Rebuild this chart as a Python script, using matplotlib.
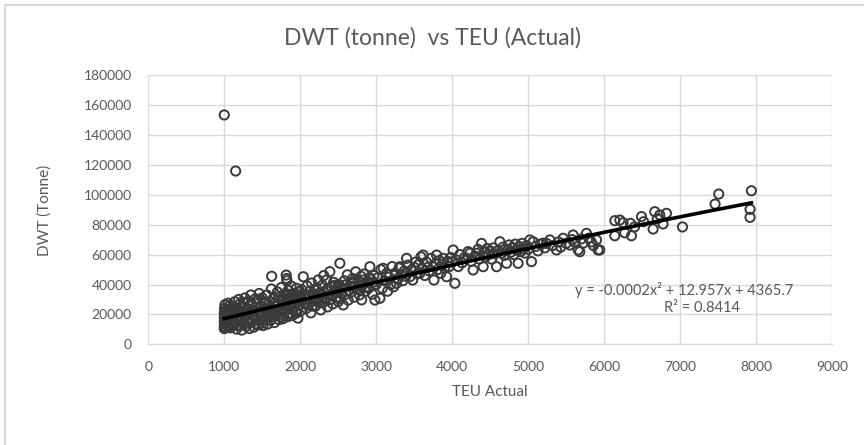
import numpy as np
import matplotlib
matplotlib.use("Agg")
import matplotlib.pyplot as plt
from matplotlib.patches import Rectangle

plt.rcParams['font.family'] = ['Lato', 'DejaVu Sans']

title = "DWT (tonne)  vs TEU (Actual)"
x_label = "TEU Actual"
y_label = "DWT (Tonne)"
x_ticks = [0, 1000, 2000, 3000, 4000, 5000, 6000, 7000, 8000, 9000]
y_ticks = [0, 20000, 40000, 60000, 80000, 100000, 120000, 140000, 160000, 180000]

# trend line coefficients (a x^2 + b x + c) and R^2 as shown
trend_coef = [-0.0002, 12.957, 4365.7]
r_squared = 0.8414

teu_a = [1000, 1000, 1005, 1000, 1010, 1000, 1008, 1000, 1012, 1003, 1020, 1030, 1025, 1040, 1035,
         1050, 1060, 1055, 1070, 1065, 1080, 1090, 1085, 1100, 1095, 1010, 1050, 1100, 1110,
         1000, 1150]
dwt_a = [10500, 12000, 13500, 15000, 16500, 18000, 19500, 21000, 22500, 24000, 11200, 14200, 17300, 20100, 23300,
         12600, 15700, 18800, 21800, 25600, 11000, 14000, 19500, 17000, 22500, 26500, 27500, 12000, 25000,
         153400, 115900]

teu_b = [1120, 1130, 1140, 1160, 1170, 1180, 1190, 1200, 1210, 1220, 1230, 1240, 1250, 1260, 1270,
         1280, 1290, 1300, 1310, 1320, 1330, 1340, 1350, 1360, 1370, 1380, 1390, 1400, 1410, 1420,
         1430, 1440, 1450, 1460, 1470, 1480, 1490, 1500, 1500, 1510, 1520]
dwt_b = [13500, 19000, 28500, 10200, 16000, 22000, 30000, 12500, 18500, 25000, 9500, 21000, 28000, 15000, 31000,
         19500, 12000, 24000, 17000, 29000, 10500, 21500, 33000, 14500, 26000, 19000, 11500, 23000, 30500, 16500,
         27000, 13000, 21000, 34000, 18000, 25500, 14000, 22000, 31000, 12500, 27500]

teu_b2 = [1115, 1145, 1175, 1205, 1235, 1265, 1295, 1325, 1355, 1385, 1415, 1445, 1475, 1505, 1535,
          1565, 1595, 1625, 1655, 1685, 1715, 1745, 1775, 1805, 1835, 1865, 1895, 1925, 1955, 1985]
dwt_b2 = [16500, 23500, 12800, 27000, 15800, 24500, 20500, 14000, 26500, 22500, 13800, 30000, 20500, 16500, 28500,
          19500, 24500, 18500, 27000, 22000, 31500, 18500, 29500, 25500, 32500, 19000, 30000, 27500, 21000, 35000]

teu_c = [1530, 1550, 1560, 1570, 1580, 1600, 1610, 1620, 1624, 1630, 1650, 1660, 1670, 1680, 1700,
         1710, 1720, 1730, 1740, 1750, 1760, 1770, 1780, 1790, 1800, 1810, 1815, 1820, 1825, 1830,
         1840, 1850, 1860, 1870, 1880, 1890, 1900, 1910, 1920, 1930, 1940, 1950, 1960, 1970, 1980,
         1990, 2000]
dwt_c = [17000, 24000, 33000, 13500, 20500, 28500, 16000, 37000, 45500, 22500, 31000, 14500, 25500, 19000, 35000,
         27000, 16500, 23000, 30000, 38000, 20000, 17000, 26500, 33500, 22000, 29000, 46300, 44000, 42500, 18500,
         36000, 25000, 31500, 21000, 39000, 27500, 19500, 34000, 24500, 30500, 22000, 37500, 28000, 17500, 33000,
         26000, 31000]

teu_d = [2010, 2020, 2040, 2050, 2060, 2080, 2090, 2100, 2110, 2130, 2140, 2150, 2170, 2180, 2200,
         2210, 2230, 2237, 2250, 2260, 2270, 2290, 2300, 2310, 2320, 2340, 2347, 2360, 2380, 2390,
         2400, 2410, 2430, 2440, 2450, 2470, 2478, 2490, 2500, 2510, 2522]
dwt_d = [22500, 36500, 45200, 28000, 33000, 24000, 39000, 30500, 26500, 35500, 21000, 41000, 29000, 33500, 25500,
         37500, 31000, 43000, 27500, 34500, 23000, 39500, 31500, 46000, 28500, 36000, 43000, 25000, 33000, 48600,
         30000, 38500, 27000, 41500, 34500, 31000, 36300, 38000, 28500, 40000, 54200]

teu_d2 = [2025, 2070, 2120, 2160, 2190, 2220, 2280, 2330, 2370, 2420, 2460, 2485, 2540, 2590, 2640,
          2680, 2720, 2770, 2830, 2870, 2910, 2960]
dwt_d2 = [30000, 27000, 32500, 25500, 36500, 29500, 33000, 30000, 37000, 32500, 39500, 35000, 34000, 39500, 36000,
          41500, 38500, 40000, 43000, 38500, 44500, 41500]

teu_e = [2530, 2550, 2566, 2580, 2600, 2620, 2630, 2650, 2670, 2690, 2697, 2710, 2730, 2740, 2760,
         2780, 2785, 2800, 2808, 2820, 2840, 2860, 2880, 2900, 2917, 2930, 2950, 2970, 2983, 3000]
dwt_e = [30500, 37500, 26300, 42500, 33500, 46500, 29500, 39000, 35000, 44000, 40800, 31500, 48500, 37000, 42000,
         33000, 36300, 45500, 29700, 39500, 47000, 35500, 41500, 37500, 51900, 43500, 33500, 46000, 29600, 40000]

teu_f = [3020, 3049, 3060, 3080, 3092, 3110, 3137, 3150, 3170, 3190, 3210, 3230, 3250, 3268, 3290,
         3300, 3312, 3330, 3350, 3370, 3390, 3400, 3420, 3443, 3460, 3480, 3500]
dwt_f = [44500, 30800, 50000, 37500, 50800, 42500, 47500, 35500, 45000, 40000, 52000, 38500, 47500, 40800, 44000,
         51000, 51900, 46500, 42500, 49000, 45500, 57500, 53000, 45200, 49500, 43000, 51500]

teu_g = [3520, 3540, 3560, 3575, 3590, 3610, 3618, 3640, 3660, 3680, 3700, 3720, 3750, 3760, 3780,
         3795, 3810, 3830, 3850, 3870, 3882, 3900, 3926, 3940, 3960, 3980, 4000, 4013]
dwt_g = [55000, 47000, 53500, 47500, 58500, 50500, 59700, 46000, 55000, 51500, 49000, 57500, 51900, 43000, 54000,
         59700, 50000, 56000, 47500, 53500, 57500, 51000, 45200, 55500, 52000, 58000, 55000, 63100]

teu_h = [4036, 4050, 4080, 4100, 4130, 4160, 4189, 4210, 4233, 4250, 4276, 4300, 4321, 4340, 4360,
         4387, 4408, 4420, 4440, 4460, 4480, 4500]
dwt_h = [40800, 56500, 52000, 60000, 54500, 58000, 57500, 62000, 60900, 55500, 49700, 59000, 60900, 63500, 57000,
         67500, 51900, 61500, 58500, 64000, 60000, 62500]

teu_i = [4520, 4540, 4560, 4584, 4600, 4628, 4650, 4670, 4690, 4716, 4730, 4750, 4770, 4790, 4810,
         4830, 4850, 4868, 4880, 4900, 4920, 4940, 4960, 4980, 5000, 5022]
dwt_i = [57000, 64500, 60500, 51900, 62500, 68600, 61000, 65000, 59500, 54200, 63000, 66500, 61500, 64500, 60000,
         67000, 63000, 54200, 65500, 62000, 67500, 64000, 61000, 66000, 63500, 69800]

teu_j = [5044, 5066, 5100, 5130, 5160, 5197, 5220, 5242, 5286, 5320, 5374, 5400, 5430, 5461, 5500,
         5549, 5580, 5592, 5620, 5658, 5680, 5700, 5724, 5768, 5800, 5830, 5860, 5900, 5921, 5943]
dwt_j = [55300, 68600, 65500, 62500, 67000, 67600, 64500, 67500, 69800, 66000, 63100, 68500, 65000, 70900, 67500,
         66400, 70000, 73100, 68000, 63100, 61900, 70500, 67600, 74200, 71000, 68500, 66000, 69800, 63100, 63100]

teu_k = [6141, 6207, 6250, 6272, 6347, 6141, 6360, 6400, 6492, 6520, 6645, 6667, 6700, 6733, 6776,
         6821, 7032, 7461, 7509, 7921, 7921, 7939]
dwt_k = [82700, 83100, 81300, 74600, 80900, 72600, 72600, 78500, 85400, 82000, 77100, 88700, 84000, 86500, 80500,
         87600, 78500, 93800, 100500, 90300, 84900, 102700]

teu = np.array(teu_a + teu_b + teu_b2 + teu_c + teu_d + teu_d2 + teu_e + teu_f + teu_g + teu_h
               + teu_i + teu_j + teu_k, float)
dwt = np.array(dwt_a + dwt_b + dwt_b2 + dwt_c + dwt_d + dwt_d2 + dwt_e + dwt_f + dwt_g + dwt_h
               + dwt_i + dwt_j + dwt_k, float)

GRAY = "#595959"
GRID = "#d9d9d9"

fig = plt.figure(figsize=(8.64, 4.45), dpi=100)
# chart frame
fig.patches.append(Rectangle((5 / 864, -0.1), 1.2, 1 - 5 / 445 + 0.1, transform=fig.transFigure,
                             fill=False, edgecolor="#d0d0d0", linewidth=1.2))
ax = fig.add_axes([148.3 / 864, 1 - 344.3 / 445, (832 - 148.3) / 864, (344.3 - 75.2) / 445])

ax.set_xlim(0, 9000)
ax.set_ylim(0, 180000)
ax.set_xticks(x_ticks)
ax.set_yticks(y_ticks)
ax.set_xticklabels([str(t) for t in x_ticks])
ax.set_yticklabels([str(t) for t in y_ticks])
ax.tick_params(length=0, labelsize=10, colors=GRAY, pad=12)
ax.grid(True, color=GRID, linewidth=1.0)
ax.set_axisbelow(True)
for s in ["top", "right", "left"]:
    ax.spines[s].set_visible(False)
ax.spines["bottom"].set_color(GRID)
ax.spines["bottom"].set_linewidth(1.0)

ax.scatter(teu, dwt, s=44, facecolors="none", edgecolors="#3a3a3a", linewidths=1.4, zorder=3)

xs = np.linspace(teu.min(), teu.max(), 200)
ys = np.polyval(trend_coef, xs)
ax.plot(xs, ys, color="black", linewidth=2.6, zorder=4)

ax.text(7060, 36300, "y = -0.0002x\u00b2 + 12.957x + 4365.7", ha="center", va="center",
        fontsize=10.5, color=GRAY)
ax.text(7290, 24300, "R\u00b2 = %.4f" % r_squared, ha="center", va="center", fontsize=10.5, color=GRAY)

fig.text(0.5, 1 - 38 / 445, title, ha="center", va="center", fontsize=16.5, color=GRAY)
fig.text(490 / 864, 1 - 392 / 445, x_label, ha="center", va="center", fontsize=11, color=GRAY)
fig.text(45 / 864, 1 - 210 / 445, y_label, ha="center", va="center", fontsize=11, color=GRAY,
         rotation=90)

fig.savefig("out.png", dpi=100)
